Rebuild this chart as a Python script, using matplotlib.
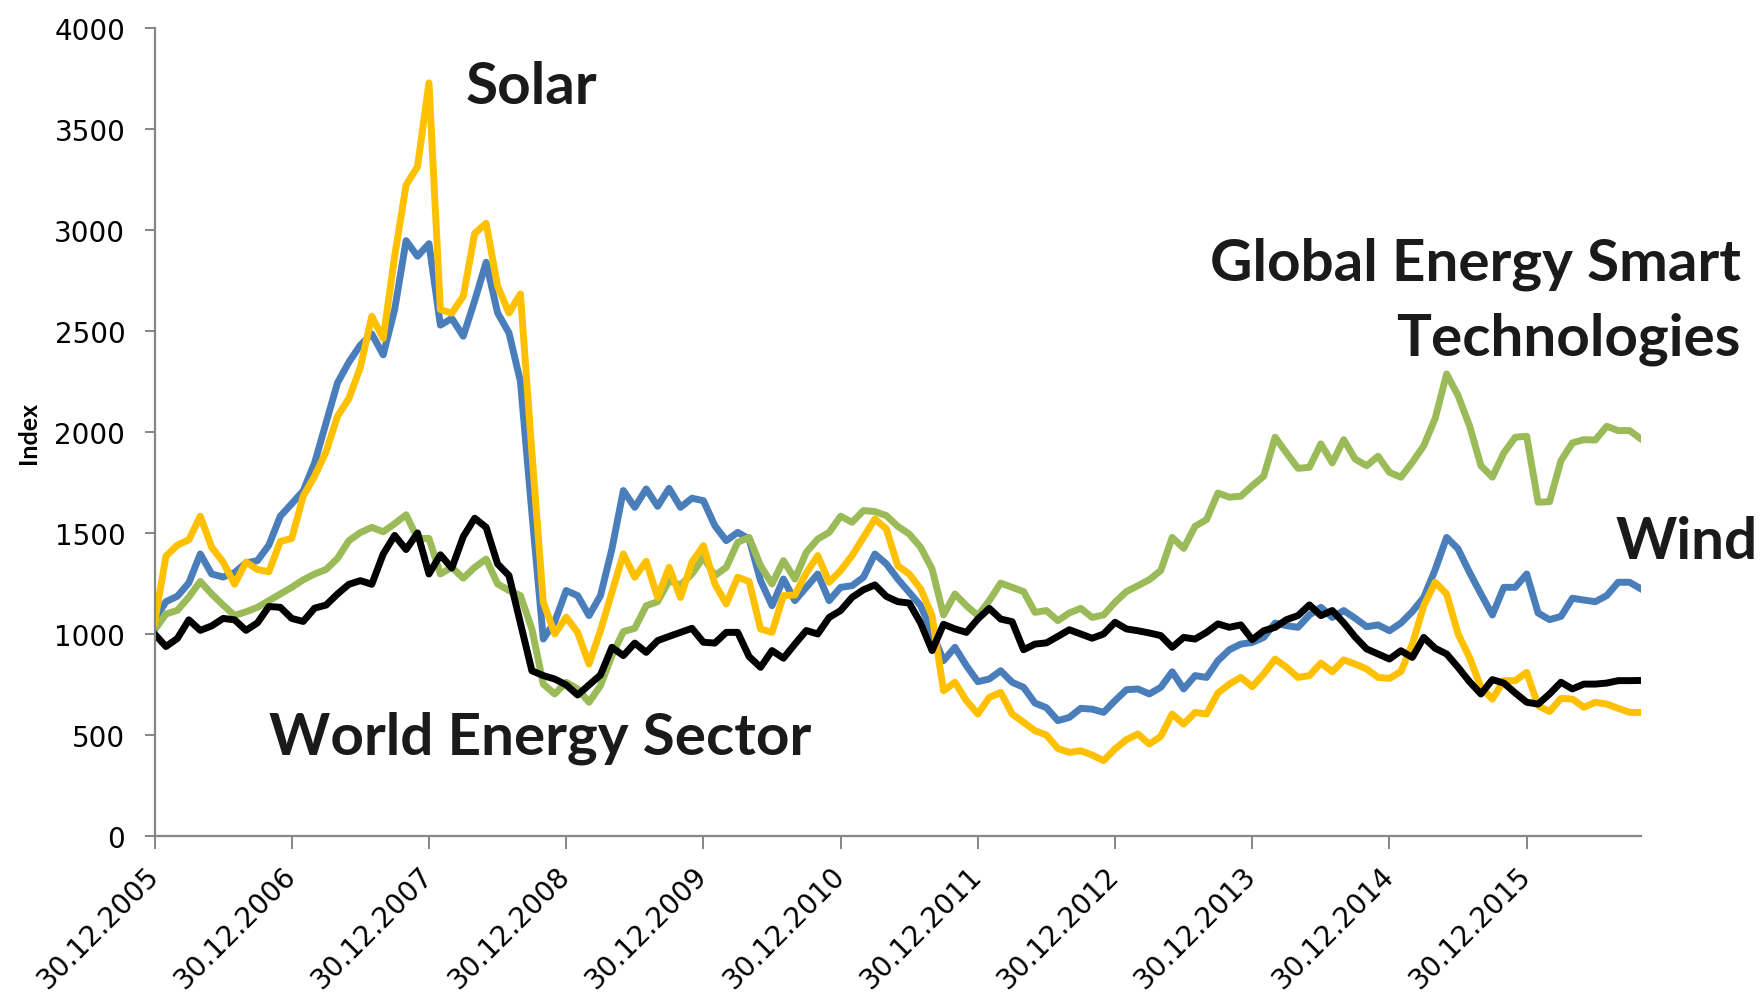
import numpy as np
import matplotlib.pyplot as plt

# monthly index values, 30.12.2005 = start
wind = [1070, 1160, 1187, 1253, 1396, 1297, 1282, 1304, 1352, 1363, 1440, 1583, 1645,
        1708, 1847, 2045, 2243, 2346, 2430, 2485, 2382, 2606, 2947, 2870, 2932,
        2529, 2562, 2474, 2650, 2840, 2590, 2490, 2250, 1600, 975, 1061, 1215,
        1190, 1091, 1190, 1421, 1710, 1627, 1718, 1632, 1721, 1627, 1672, 1660,
        1536, 1462, 1503, 1470, 1264, 1140, 1272, 1165, 1231, 1297, 1165, 1231,
        1239, 1281, 1396, 1347, 1272, 1206, 1140, 1008, 868, 934, 843, 764,
        777, 818, 761, 736, 658, 635, 571, 587, 632, 628, 612, 670,
        724, 728, 703, 736, 813, 728, 794, 785, 868, 922, 950, 958,
        983, 1054, 1041, 1033, 1094, 1132, 1082, 1116, 1078, 1036, 1045, 1016,
        1054, 1111, 1181, 1319, 1478, 1421, 1305, 1198, 1094, 1231, 1231, 1297,
        1104, 1071, 1087, 1177, 1168, 1160, 1190, 1256, 1256, 1223]

gest = [1020, 1099, 1117, 1183, 1260, 1198, 1143, 1092, 1110, 1132, 1165, 1198, 1231,
        1268, 1297, 1319, 1374, 1462, 1502, 1528, 1506, 1546, 1590, 1473, 1473,
        1297, 1330, 1276, 1330, 1371, 1248, 1215, 1190, 1025, 752, 703, 761,
        728, 662, 744, 893, 1012, 1028, 1140, 1160, 1264, 1243, 1297, 1380,
        1289, 1330, 1454, 1478, 1338, 1248, 1363, 1272, 1404, 1470, 1503, 1583,
        1553, 1611, 1606, 1586, 1533, 1495, 1429, 1322, 1094, 1198, 1140, 1091,
        1165, 1252, 1231, 1210, 1107, 1116, 1066, 1104, 1127, 1082, 1094, 1157,
        1210, 1239, 1269, 1314, 1478, 1424, 1533, 1566, 1698, 1677, 1682, 1734,
        1781, 1974, 1896, 1820, 1825, 1941, 1847, 1962, 1866, 1833, 1880, 1800,
        1776, 1850, 1932, 2068, 2287, 2180, 2031, 1833, 1776, 1896, 1974, 1979,
        1652, 1655, 1858, 1946, 1962, 1960, 2028, 2007, 2007, 1965]

solar = [1055, 1385, 1440, 1466, 1583, 1429, 1356, 1246, 1356, 1319, 1308, 1458, 1473,
         1682, 1781, 1902, 2078, 2166, 2320, 2573, 2463, 2870, 3222, 3314, 3728,
         2606, 2588, 2672, 2983, 3033, 2722, 2589, 2683, 1900, 1157, 1000, 1083,
         1008, 851, 1017, 1206, 1396, 1281, 1360, 1181, 1330, 1181, 1355, 1437,
         1248, 1149, 1281, 1260, 1025, 1008, 1190, 1193, 1302, 1388, 1256, 1314,
         1388, 1478, 1569, 1520, 1338, 1297, 1223, 1091, 719, 761, 670, 604,
         686, 711, 604, 563, 521, 500, 433, 414, 422, 401, 373, 431,
         477, 505, 455, 493, 604, 554, 612, 604, 708, 752, 785, 739,
         802, 876, 835, 785, 794, 856, 813, 872, 851, 827, 785, 780,
         814, 950, 1140, 1256, 1198, 1000, 884, 736, 678, 769, 769, 810,
         645, 616, 681, 678, 637, 662, 653, 632, 612, 612]

world = [1000, 938, 978, 1070, 1018, 1040, 1077, 1070, 1018, 1055, 1136, 1132, 1077,
         1062, 1128, 1143, 1198, 1246, 1264, 1246, 1396, 1488, 1418, 1500, 1297,
         1392, 1326, 1482, 1573, 1528, 1347, 1289, 1054, 818, 794, 777, 748,
         698, 748, 797, 934, 893, 955, 909, 967, 988, 1008, 1028, 959,
         955, 1008, 1008, 888, 835, 918, 880, 950, 1017, 1000, 1082, 1116,
         1181, 1219, 1243, 1186, 1160, 1153, 1054, 918, 1048, 1025, 1008, 1074,
         1127, 1074, 1061, 922, 950, 956, 988, 1021, 1000, 979, 1000, 1058,
         1025, 1016, 1005, 992, 934, 983, 975, 1008, 1050, 1033, 1045, 972,
         1016, 1033, 1071, 1091, 1144, 1091, 1116, 1055, 985, 926, 901, 876,
         917, 884, 983, 929, 901, 835, 764, 703, 774, 757, 708, 662,
         653, 703, 761, 728, 752, 752, 757, 769, 769, 770]

tick_labels = ['30.12.2005', '30.12.2006', '30.12.2007', '30.12.2008', '30.12.2009',
               '30.12.2010', '30.12.2011', '30.12.2012', '30.12.2013', '30.12.2014',
               '30.12.2015']

x = np.arange(len(world))

fig = plt.figure(figsize=(17.6, 9.95), dpi=100)
ax = fig.add_axes([0.0878, 0.1588, 0.8446, 0.8121])

lw = 5
ax.plot(x, wind, color='#4a7ebb', lw=lw, solid_joinstyle='round')
ax.plot(x, gest, color='#9bbb59', lw=lw, solid_joinstyle='round')
ax.plot(x, solar, color='#ffc000', lw=lw, solid_joinstyle='round')
ax.plot(x, world, color='#000000', lw=lw, solid_joinstyle='round')

ax.set_xlim(0, len(world) - 1)
ax.set_ylim(0, 4000)
ax.set_yticks(range(0, 4001, 500))
ax.set_xticks(range(0, 121, 12))
ax.set_xticklabels(tick_labels, rotation=45, ha='right', va='center',
                   rotation_mode='anchor')

for s in ['top', 'right']:
    ax.spines[s].set_visible(False)
for s in ['left', 'bottom']:
    ax.spines[s].set_color('#868686')
    ax.spines[s].set_linewidth(1.6)
ax.tick_params(axis='both', colors='#868686', width=1.4, labelcolor='black',
               labelsize=20)
ax.tick_params(axis='y', length=7, pad=14)
ax.tick_params(axis='x', length=9, pad=16)

ax.set_ylabel('Index', fontsize=18, fontweight='bold', family='Lato', labelpad=10)

big = dict(fontsize=42, fontweight='bold', family='Lato', color='#1a1a1a')
ax.text(27.2, 3708, 'Solar', ha='left', va='center', **big)
ax.text(138.7, 2837, 'Global Energy Smart', ha='right', va='center', **big)
ax.text(138.7, 2465, 'Technologies', ha='right', va='center', **big)
ax.text(140.2, 1460, 'Wind', ha='right', va='center', **big)
ax.text(10.0, 490, 'World Energy Sector', ha='left', va='center', **big)

plt.savefig('out.png', dpi=100)
